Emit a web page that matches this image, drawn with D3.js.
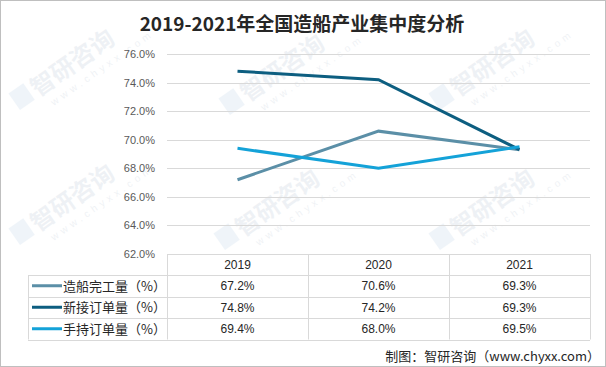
<!DOCTYPE html>
<html><head><meta charset="utf-8">
<script src="https://cdn.jsdelivr.net/npm/d3@7/dist/d3.min.js"></script>
<style>body{margin:0;background:#fff}svg{display:block}</style>
</head><body><svg id="c" width="606" height="367"></svg>
<script>
const title = "2019-2021年全国造船产业集中度分析";
const categories = ["2019", "2020", "2021"];
const seriesNames = ["造船完工量（%）", "新接订单量（%）", "手持订单量（%）"];
const completed = [67.2, 70.6, 69.3];
const newOrders = [74.8, 74.2, 69.3];
const holding = [69.4, 68.0, 69.5];
const yTicks = [62, 64, 66, 68, 70, 72, 74, 76];
const colors = ["#5b8fa7", "#0d5e80", "#14a2d8"];
const source = "制图：智研咨询（www.chyxx.com）";

(function(){
const series = [completed, newOrders, holding];
const svg = d3.select("#c");
const W = 606, H = 367;
const font = "'Noto Sans CJK SC','Noto Sans',sans-serif";
svg.append("rect").attr("x",0.5).attr("y",0.5).attr("width",W-1).attr("height",H-1)
  .attr("fill","#fff").attr("stroke","#bfbfbf");

// watermarks (kept fully inside the picture)
const wm = [[20,110],[230,115],[440,110],[20,245],[225,250],[440,250]];
wm.forEach(([wx,wy])=>{
  const g = svg.append("g").attr("transform",`translate(${wx},${wy}) rotate(-35)`).attr("opacity",0.07);
  g.append("text").attr("x",22).attr("y",0).attr("font-family",font).attr("font-size",24).attr("font-weight","bold").attr("fill","#1f4e79").text("智研咨询");
  g.append("text").attr("x",30).attr("y",16).attr("font-family","Arial").attr("font-size",10).attr("letter-spacing",4).attr("fill","#1f4e79").text("www.chyxx.com");
  g.append("rect").attr("x",0).attr("y",-20).attr("width",18).attr("height",20).attr("fill","#2e75b6");
});

svg.append("text").attr("x",302).attr("y",31).attr("text-anchor","middle")
  .attr("font-family",font).attr("font-weight","bold").attr("font-size",19).attr("fill","#262626").text(title);

const pL = 167, pR = 590, pT = 54, pB = 254;
const x = d3.scaleBand().domain(categories).range([pL,pR]);
const y = d3.scaleLinear().domain([62,76]).range([pB,pT]);

const grid = svg.append("g");
grid.selectAll("line").data(yTicks.slice(1)).join("line")
  .attr("x1",pL).attr("x2",pR).attr("y1",d=>Math.round(y(d))+0.5).attr("y2",d=>Math.round(y(d))+0.5)
  .attr("stroke","#d9d9d9").attr("stroke-width",1);

const yAxis = d3.axisLeft(y).tickValues(yTicks).tickFormat(d=>d.toFixed(1)+"%").tickSize(0).tickPadding(12);
const ga = svg.append("g").attr("transform",`translate(${pL},0)`).call(yAxis);
ga.select(".domain").remove();
ga.selectAll("text").attr("font-family","'Liberation Sans',Arial,sans-serif").attr("font-size",11).attr("fill","#595959");

const line = d3.line().x((d,i)=>x(categories[i])+x.bandwidth()/2).y(d=>y(d));
series.forEach((s,i)=>{
  svg.append("path").datum(s).attr("d",line).attr("fill","none")
    .attr("stroke",colors[i]).attr("stroke-width",3).attr("stroke-linejoin","miter");
});

// data table
const tLeft = 28, rowH = 21.5, hTop = 254;
const rows = [hTop, hTop+21, hTop+21+rowH, hTop+21+2*rowH, hTop+21+3*rowH];
const tb = svg.append("g");
const st = "#d9d9d9";
tb.append("line").attr("x1",pL).attr("x2",pR).attr("y1",rows[0]+0.5).attr("y2",rows[0]+0.5).attr("stroke",st);
for(let r=1;r<rows.length;r++){
  tb.append("line").attr("x1",tLeft).attr("x2",pR).attr("y1",Math.round(rows[r])+0.5).attr("y2",Math.round(rows[r])+0.5).attr("stroke",st);
}
tb.append("line").attr("x1",tLeft+0.5).attr("x2",tLeft+0.5).attr("y1",rows[1]).attr("y2",rows[4]).attr("stroke",st);
const colEdges = categories.map(c=>x(c)).concat([pR]);
colEdges.forEach(cx=>{
  tb.append("line").attr("x1",Math.round(cx)+0.5).attr("x2",Math.round(cx)+0.5).attr("y1",rows[0]).attr("y2",rows[4]).attr("stroke",st);
});
categories.forEach(c=>{
  tb.append("text").attr("x",x(c)+x.bandwidth()/2).attr("y",(rows[0]+rows[1])/2+4.5).attr("text-anchor","middle")
    .attr("font-family","'Liberation Sans',Arial,sans-serif").attr("font-size",12).attr("fill","#262626").text(c);
});
series.forEach((s,i)=>{
  const cy = (rows[i+1]+rows[i+2])/2;
  tb.append("line").attr("x1",32).attr("x2",62).attr("y1",cy).attr("y2",cy).attr("stroke",colors[i]).attr("stroke-width",3);
  tb.append("text").attr("x",63).attr("y",cy+5).attr("font-family",font).attr("font-size",13).attr("fill","#262626").text(seriesNames[i]);
  s.forEach((v,j)=>{
    tb.append("text").attr("x",x(categories[j])+x.bandwidth()/2).attr("y",cy+4.5).attr("text-anchor","middle")
      .attr("font-family","'Liberation Sans',Arial,sans-serif").attr("font-size",12).attr("fill","#262626").text(v.toFixed(1)+"%");
  });
});

svg.append("text").attr("x",600).attr("y",361).attr("text-anchor","end")
  .attr("font-family",font).attr("font-size",13).attr("fill","#262626").text(source);
})();
</script></body></html>
